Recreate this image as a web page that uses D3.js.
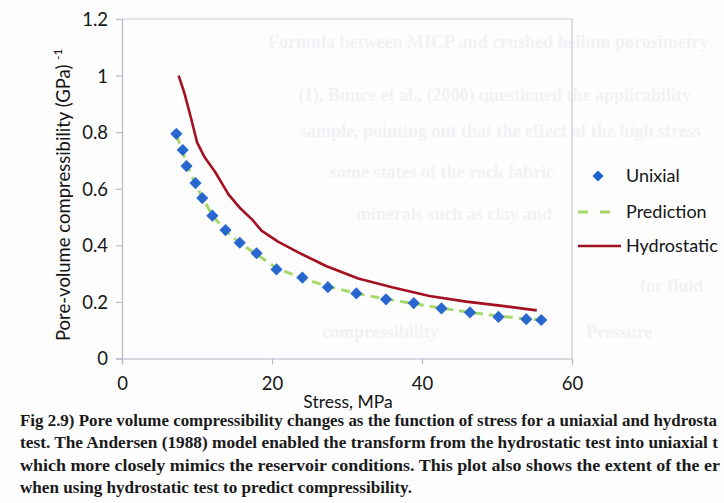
<!DOCTYPE html>
<html>
<head>
<meta charset="utf-8">
<script src="https://cdn.jsdelivr.net/npm/d3@7/dist/d3.min.js"></script>
<style>
  html, body { margin: 0; padding: 0; background: #ffffff; }
  svg { display: block; }
</style>
</head>
<body>
<svg id="chart" width="724" height="503"></svg>
<script>
// Uniaxial test measurements (stress in MPa, compressibility in 1/GPa)
const uniaxialStress = [7.25, 8.1, 8.6, 9.8, 10.7, 12.05, 13.8, 15.7, 17.95, 20.6, 24.05, 27.45, 31.25, 35.2, 38.9, 42.6, 46.4, 50.2, 53.9, 55.9];
const uniaxialValues = [0.794, 0.737, 0.680, 0.620, 0.567, 0.505, 0.454, 0.409, 0.372, 0.315, 0.286, 0.252, 0.230, 0.209, 0.196, 0.177, 0.163, 0.147, 0.139, 0.136];

// Andersen (1988) transform of the hydrostatic curve
const predictionStress = [7.25, 8.1, 8.6, 9.8, 10.7, 12.05, 13.8, 15.7, 17.95, 20.6, 24.05, 27.45, 31.25, 35.2, 38.9, 42.6, 46.4, 50.2, 53.9, 55.9];
const predictionValues = [0.790, 0.730, 0.690, 0.615, 0.570, 0.505, 0.452, 0.408, 0.368, 0.320, 0.283, 0.255, 0.230, 0.210, 0.194, 0.178, 0.163, 0.150, 0.140, 0.135];

// Hydrostatic test curve
const hydroStress = [7.55, 8.3, 9.2, 10.0, 11.0, 12.4, 14.2, 15.8, 17.4, 18.6, 20.8, 23.5, 27.2, 31.5, 36.0, 41.0, 45.9, 50.4, 55.3];
const hydroValues = [1.0, 0.94, 0.85, 0.765, 0.712, 0.660, 0.580, 0.530, 0.490, 0.452, 0.413, 0.375, 0.327, 0.283, 0.252, 0.221, 0.201, 0.187, 0.170];

const xTicks = [0, 20, 40, 60];
const yTicks = [0, 0.2, 0.4, 0.6, 0.8, 1.0, 1.2];
const xTickLabels = ["0", "20", "40", "60"];
const yTickLabels = ["0", "0.2", "0.4", "0.6", "0.8", "1", "1.2"];

const legendItems = ["Unixial", "Prediction", "Hydrostatic"];

// caption, as far as it runs before the page edge
const captionLines = [
  { t: "Fig 2.9) Pore volume compressibility changes as the function of stress for a uniaxial and hydrosta", w: 697 },
  { t: "test. The Andersen (1988) model enabled the transform from the hydrostatic test into uniaxial t", w: 698 },
  { t: "which more closely mimics the reservoir conditions. This plot also shows the extent of the er", w: 700 },
  { t: "when using hydrostatic test to predict compressibility.", w: 392 }
];

// Faint text showing through from the facing page
const ghostLines = [
  { t: "Formula between MICP and crushed helium porosimetry", x: 268, y: 48 },
  { t: "(1), Bunce et al., (2000) questioned the applicability", x: 298, y: 101 },
  { t: "sample, pointing out that the effect of the high stress", x: 300, y: 137 },
  { t: "some states of the rock fabric", x: 330, y: 178 },
  { t: "minerals such as clay and", x: 356, y: 220 },
  { t: "for fluid", x: 640, y: 292 },
  { t: "compressibility", x: 322, y: 338 },
  { t: "Pressure", x: 586, y: 338 }
];

const svg = d3.select("#chart");
const W = 724, H = 503;

const x = d3.scaleLinear().domain([0, 60]).range([122, 572]);
const y = d3.scaleLinear().domain([0, 1.2]).range([358.5, 19]);

const sans = "Lato, 'Open Sans', sans-serif";

// page background and faint show-through
svg.append("rect").attr("width", W).attr("height", H).attr("fill", "#fdfdfe");
svg.append("g").selectAll("text").data(ghostLines).join("text")
  .attr("x", d => d.x).attr("y", d => d.y)
  .attr("font-family", "'Liberation Serif', serif")
  .attr("font-weight", "bold")
  .attr("font-size", 18)
  .attr("fill", "#f2f2f5")
  .text(d => d.t);

// plot frame (top and right edges)
svg.append("path")
  .attr("d", `M${x(0)},${y(1.2)}H${x(60)}V${y(0)}`)
  .attr("fill", "none").attr("stroke", "#c9cbd6").attr("stroke-width", 1.2);

// axes
const yAxis = d3.axisLeft(y).tickValues(yTicks).tickSize(6)
  .tickFormat((d, i) => yTickLabels[i]);
const xAxis = d3.axisBottom(x).tickValues(xTicks).tickSize(6)
  .tickFormat((d, i) => xTickLabels[i]);

const gy = svg.append("g").attr("transform", `translate(${x(0)},0)`).call(yAxis);
const gx = svg.append("g").attr("transform", `translate(0,${y(0)})`).call(xAxis);

[gy, gx].forEach(g => {
  g.select(".domain").attr("stroke", "#b6b9c9").attr("stroke-width", 1.2);
  g.selectAll(".tick line").attr("stroke", "#b6b9c9").attr("stroke-width", 1.2);
  g.selectAll(".tick text")
    .attr("font-family", sans).attr("font-size", 18.5)
    .attr("fill", "#151515");
});
gy.selectAll(".tick text").attr("x", -14).attr("dy", "0.35em");
gx.selectAll(".tick text").attr("y", 18).attr("dy", "0.71em");

// axis titles
svg.append("text")
  .attr("x", 348).attr("y", 408)
  .attr("text-anchor", "middle")
  .attr("font-family", sans).attr("font-size", 17.5).attr("fill", "#151515")
  .text("Stress, MPa");

const yt = svg.append("text")
  .attr("transform", "translate(70,341) rotate(-90)")
  .attr("font-family", sans).attr("font-size", 18.5).attr("fill", "#151515");
yt.append("tspan").text("Pore-volume compressibility (GPa) ");
yt.append("tspan").attr("font-size", 12).attr("dy", -8).text("-1");

// series
const line = d3.line().x(d => x(d[0])).y(d => y(d[1]));

svg.append("path")
  .datum(d3.zip(hydroStress, hydroValues))
  .attr("d", line)
  .attr("fill", "none").attr("stroke", "#a3101f").attr("stroke-width", 2.6)
  .attr("stroke-linejoin", "round");

svg.append("path")
  .datum(d3.zip(predictionStress, predictionValues))
  .attr("d", line)
  .attr("fill", "none").attr("stroke", "#a6d86a").attr("stroke-width", 3)
  .attr("stroke-dasharray", "9,6");

// markers: squares turned 45 degrees
const marker = d3.symbol().type(d3.symbolSquare).size(74);
svg.append("g").selectAll("path")
  .data(d3.zip(uniaxialStress, uniaxialValues))
  .join("path")
  .attr("d", marker)
  .attr("transform", d => `translate(${x(d[0])},${y(d[1])}) rotate(45)`)
  .attr("fill", "#1d5fcf")
  .attr("fill-opacity", 0.95);

// legend
const lg = svg.append("g");
lg.append("path").attr("d", d3.symbol().type(d3.symbolSquare).size(60))
  .attr("transform", "translate(598,176) rotate(45)").attr("fill", "#1d5fcf");
lg.append("line").attr("x1", 578).attr("x2", 620).attr("y1", 212).attr("y2", 212)
  .attr("stroke", "#a6d86a").attr("stroke-width", 3).attr("stroke-dasharray", "10,12");
lg.append("line").attr("x1", 578).attr("x2", 621).attr("y1", 246).attr("y2", 246)
  .attr("stroke", "#a3101f").attr("stroke-width", 2.6);
lg.selectAll("text").data(legendItems).join("text")
  .attr("x", 626).attr("y", (d, i) => [182, 218, 252][i])
  .attr("font-family", sans).attr("font-size", 18).attr("fill", "#151515")
  .text(d => d);

// caption
svg.append("g").selectAll("text").data(captionLines).join("text")
  .attr("x", 20).attr("y", (d, i) => 426 + i * 22.4)
  .attr("font-family", "'Liberation Serif', 'Times New Roman', serif")
  .attr("font-weight", "bold").attr("font-size", 16.6)
  .attr("fill", "#1a1a1a")
  .attr("textLength", d => d.w)
  .attr("lengthAdjust", "spacingAndGlyphs")
  .text(d => d.t);
</script>
</body>
</html>
